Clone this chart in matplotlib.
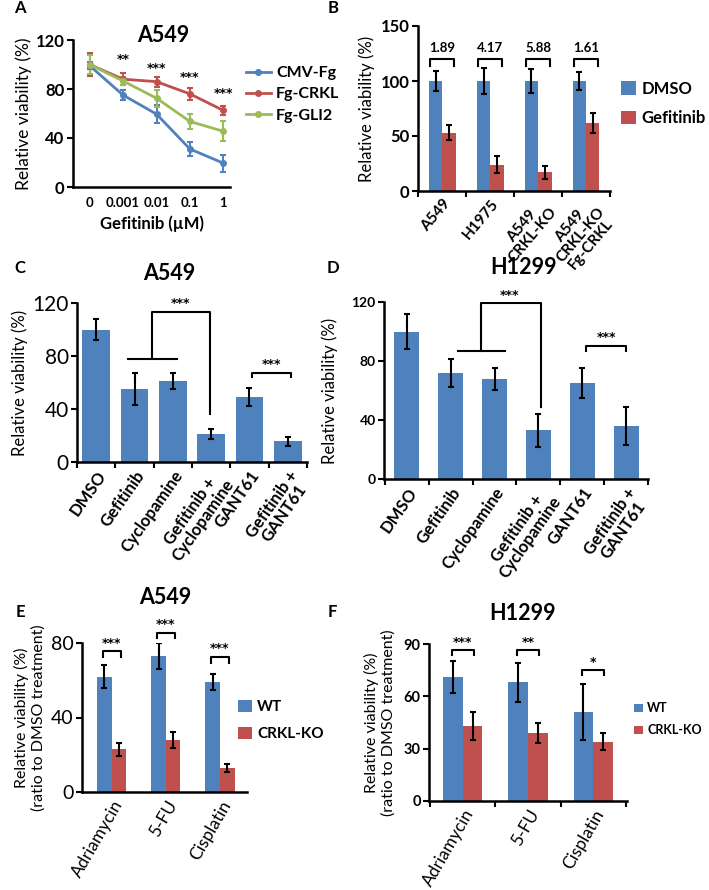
import numpy as np
import matplotlib.pyplot as plt
from matplotlib.lines import Line2D

plt.rcParams['font.family'] = ['Lato', 'DejaVu Sans']

BLUE = '#4F81BD'
RED = '#C0504D'
GREEN = '#9BBB59'

# Panel A
doses = ['0', '0.001', '0.01', '0.1', '1']
cmv_fg = [99, 75, 59.5, 31, 19.5]
cmv_fg_err = [3, 4, 7.5, 6, 7]
fg_crkl = [100, 88, 86, 76, 62.5]
fg_crkl_err = [9.5, 5, 4, 5, 4]
fg_gli2 = [100, 86.5, 72.5, 53.5, 45.5]
fg_gli2_err = [8, 3, 7, 6.5, 8]
stars_a = ['**', '***', '***', '***']
stars_a_y = [104, 97, 89, 76]

# Panel B
lines_b = ['A549', 'H1975', 'A549\nCRKL-KO', 'A549\nCRKL-KO\nFg-CRKL']
dmso_b = [100, 100, 100, 100]
dmso_b_err = [9, 12, 11, 8]
gef_b = [53, 24, 17, 62]
gef_b_err = [7, 8, 6, 9]
ratio_b = ['1.89', '4.17', '5.88', '1.61']

# Panels C and D
treatments = ['DMSO', 'Gefitinib', 'Cyclopamine', 'Gefitinib +\nCyclopamine',
              'GANT61', 'Gefitinib +\nGANT61']
a549_c = [100, 55, 61, 21, 49, 15.5]
a549_c_err = [8, 12, 6, 4, 7, 3.5]
h1299_d = [100, 72, 68, 33, 65, 36]
h1299_d_err = [12, 9.5, 7.5, 11, 10, 13]

# Panels E and F
drugs = ['Adriamycin', '5-FU', 'Cisplatin']
wt_e = [62, 73, 59]
wt_e_err = [6, 7, 4.3]
ko_e = [23, 28, 13]
ko_e_err = [3.5, 4.3, 2.2]
stars_e = ['***', '***', '***']
wt_f = [71, 68, 51]
wt_f_err = [9, 11, 16]
ko_f = [43, 39, 34]
ko_f_err = [8, 6, 5]
stars_f = ['***', '**', '*']

fig = plt.figure(figsize=(7.09, 8.90), dpi=100)
W, H = 709, 890
STAR = dict(family='DejaVu Sans', fontsize=9, fontweight='bold')


def add_ax(l, r, t, b):
    return fig.add_axes([l / W, 1 - b / H, (r - l) / W, (b - t) / H])


def style(ax, tick_size, bold=True):
    for s in ['top', 'right']:
        ax.spines[s].set_visible(False)
    for s in ['left', 'bottom']:
        ax.spines[s].set_linewidth(1.8)
    ax.tick_params(axis='y', direction='out', length=4, width=1.5,
                   labelsize=tick_size, pad=2)
    for lab in ax.get_yticklabels():
        lab.set_fontweight('bold' if bold else 'normal')


def cat_ticks(ax, n, labels, size, rot, bold=True):
    ax.set_xticks(np.arange(n))
    ax.set_xticklabels(labels, rotation=rot, ha='right', rotation_mode='anchor',
                       fontsize=size, fontweight='bold' if bold else 'normal',
                       multialignment='center', linespacing=0.95)
    ax.tick_params(axis='x', which='major', length=0, pad=4)
    ax.set_xticks(np.arange(n + 1) - 0.5, minor=True)
    ax.tick_params(axis='x', which='minor', direction='out', length=4, width=1.5)


def bracket(ax, x1, x2, y, drop, label):
    ax.plot([x1, x1, x2, x2], [y - drop, y, y, y - drop], color='black', lw=1.5,
            clip_on=False)
    ax.text((x1 + x2) / 2, y + drop * 0.3, label, ha='center', va='bottom', **STAR)


def bar_legend(ax, anchor, size, hl=0.9):
    ax.legend(loc='center left', bbox_to_anchor=anchor, frameon=False,
              borderpad=0, borderaxespad=0,
              handlelength=hl, handleheight=hl, handletextpad=0.35,
              labelspacing=0.8, prop={'weight': 'bold', 'size': size})


# ---------- A ----------
ax = add_ax(73, 230, 40, 187)
x = np.arange(len(doses))
handles = []
for vals, errs, c, lab in [(cmv_fg, cmv_fg_err, BLUE, 'CMV-Fg'),
                           (fg_crkl, fg_crkl_err, RED, 'Fg-CRKL'),
                           (fg_gli2, fg_gli2_err, GREEN, 'Fg-GLI2')]:
    ax.errorbar(x, vals, yerr=errs, color=c, marker='o', ms=4, lw=2,
                elinewidth=1.5, capsize=2.5, capthick=1.5)
    handles.append(Line2D([], [], color=c, marker='o', ms=4, lw=2, label=lab))
for i, s in enumerate(stars_a):
    ax.text(i + 1, stars_a_y[i], s, ha='center', va='center', **STAR)
ax.set_xlim(-0.5, 4.2)
ax.set_ylim(0, 120)
ax.set_yticks([0, 40, 80, 120])
style(ax, 12)
ax.set_xticks(x)
ax.set_xticklabels(doses, fontsize=9.5, fontweight='bold')
ax.tick_params(axis='x', length=0, pad=7)
ax.set_ylabel('Relative viability (%)', fontsize=12.5, labelpad=3)
ax.set_xlabel('Gefitinib (µM)', fontsize=12, fontweight='bold', labelpad=5)
ax.legend(handles=handles, loc='center left', bbox_to_anchor=(1.1, 0.63),
          frameon=False, borderpad=0, borderaxespad=0, handlelength=1.6,
          handletextpad=0.3, labelspacing=0.45,
          prop={'weight': 'bold', 'size': 11.5})
fig.text(163 / W, 1 - 35 / H, 'A549', ha='center', va='center', fontsize=15.5,
         fontweight='bold')

# ---------- B ----------
ax = add_ax(418, 610, 26, 191)
x = np.arange(len(lines_b))
bw = 0.28
ax.bar(x - bw / 2, dmso_b, bw, color=BLUE, label='DMSO')
ax.bar(x + bw / 2, gef_b, bw, color=RED, label='Gefitinib')
ax.errorbar(x - bw / 2, dmso_b, yerr=dmso_b_err, fmt='none', ecolor='black',
            elinewidth=1.5, capsize=2.5, capthick=1.5)
ax.errorbar(x + bw / 2, gef_b, yerr=gef_b_err, fmt='none', ecolor='black',
            elinewidth=1.5, capsize=2.5, capthick=1.5)
for i, r in enumerate(ratio_b):
    ax.plot([i - 0.25, i - 0.25, i + 0.25, i + 0.25], [114, 120, 120, 114],
            color='black', lw=1.5)
    ax.text(i, 130, r, ha='center', va='center', fontsize=9.5, fontweight='bold')
ax.set_xlim(-0.51, 3.5)
ax.set_ylim(0, 150)
ax.set_yticks([0, 50, 100, 150])
style(ax, 12)
cat_ticks(ax, 4, lines_b, 11, 50)
ax.set_ylabel('Relative viability (%)', fontsize=12, labelpad=4)
bar_legend(ax, (1.055, 0.53), 12)

# ---------- C ----------
ax = add_ax(77, 307, 303, 462)
x = np.arange(len(treatments))
ax.bar(x, a549_c, 0.73, color=BLUE)
ax.errorbar(x, a549_c, yerr=a549_c_err, fmt='none', ecolor='black',
            elinewidth=1.5, capsize=2.5, capthick=1.5)
ax.plot([0.83, 2.1], [78, 78], color='black', lw=1.5)
ax.plot([1.45, 1.45, 2.98, 2.98], [78, 113.5, 113.5, 36], color='black', lw=1.5)
ax.text(2.2, 115, '***', ha='center', va='bottom', **STAR)
bracket(ax, 4.07, 5.07, 67.5, 3.5, '***')
ax.set_xlim(-0.5, 5.47)
ax.set_ylim(0, 120)
ax.set_yticks([0, 40, 80, 120])
style(ax, 15, bold=False)
cat_ticks(ax, 6, treatments, 12, 55)
ax.set_ylabel('Relative viability (%)', fontsize=12, labelpad=3)
fig.text(169 / W, 1 - 273 / H, 'A549', ha='center', va='center', fontsize=15.5,
         fontweight='bold')

# ---------- D ----------
ax = add_ax(384, 648, 302, 479)
ax.bar(x, h1299_d, 0.57, color=BLUE)
ax.errorbar(x, h1299_d, yerr=h1299_d_err, fmt='none', ecolor='black',
            elinewidth=1.5, capsize=2.5, capthick=1.5)
ax.plot([1.16, 2.25], [86.5, 86.5], color='black', lw=1.5)
ax.plot([1.7, 1.7, 3.05, 3.05], [86.5, 119, 119, 49], color='black', lw=1.5)
ax.text(2.35, 120, '***', ha='center', va='bottom', **STAR)
bracket(ax, 4.09, 5.0, 90.5, 3.5, '***')
ax.set_xlim(-0.52, 5.5)
ax.set_ylim(0, 120)
ax.set_yticks([0, 40, 80, 120])
style(ax, 10)
cat_ticks(ax, 6, treatments, 12, 55)
ax.set_ylabel('Relative viability (%)', fontsize=12, labelpad=10)
fig.text(524 / W, 1 - 267 / H, 'H1299', ha='center', va='center', fontsize=15.5,
         fontweight='bold')

# ---------- E ----------
ax = add_ax(82, 247, 643, 792)
x = np.arange(len(drugs))
bw = 0.27
ax.bar(x - bw / 2, wt_e, bw, color=BLUE, label='WT')
ax.bar(x + bw / 2, ko_e, bw, color=RED, label='CRKL-KO')
ax.errorbar(x - bw / 2, wt_e, yerr=wt_e_err, fmt='none', ecolor='black',
            elinewidth=1.5, capsize=2.5, capthick=1.5)
ax.errorbar(x + bw / 2, ko_e, yerr=ko_e_err, fmt='none', ecolor='black',
            elinewidth=1.5, capsize=2.5, capthick=1.5)
for i, (yb, s) in enumerate(zip([75.5, 85.5, 72.5], stars_e)):
    bracket(ax, i - bw / 2 - 0.03, i + bw / 2 + 0.03, yb, 3, s)
ax.set_xlim(-0.55, 2.37)
ax.set_ylim(0, 80)
ax.set_yticks([0, 40, 80])
style(ax, 14, bold=False)
cat_ticks(ax, 3, drugs, 12.5, 60, bold=False)
ax.tick_params(axis='x', which='minor', length=0)
ax.set_ylabel('Relative viability (%)\n(ratio to DMSO treatment)', fontsize=11.5,
              labelpad=4)
bar_legend(ax, (0.945, 0.48), 11)
fig.text(165 / W, 1 - 598 / H, 'A549', ha='center', va='center', fontsize=15.5,
         fontweight='bold')

# ---------- F ----------
ax = add_ax(429, 627, 644, 801)
bw = 0.3
ax.bar(x - bw / 2, wt_f, bw, color=BLUE, label='WT')
ax.bar(x + bw / 2, ko_f, bw, color=RED, label='CRKL-KO')
ax.errorbar(x - bw / 2, wt_f, yerr=wt_f_err, fmt='none', ecolor='black',
            elinewidth=1.5, capsize=2.5, capthick=1.5)
ax.errorbar(x + bw / 2, ko_f, yerr=ko_f_err, fmt='none', ecolor='black',
            elinewidth=1.5, capsize=2.5, capthick=1.5)
for i, (yb, s) in enumerate(zip([86.5, 86.5, 75], stars_f)):
    bracket(ax, i - bw / 2 - 0.02, i + bw / 2 + 0.02, yb, 3, s)
ax.set_xlim(-0.52, 2.52)
ax.set_ylim(0, 90)
ax.set_yticks([0, 30, 60, 90])
style(ax, 10.5)
cat_ticks(ax, 3, drugs, 12.5, 60, bold=False)
ax.set_ylabel('Relative viability (%)\n(ratio to DMSO treatment)', fontsize=11.5,
              labelpad=6)
bar_legend(ax, (1.035, 0.52), 9, hl=0.7)
fig.text(523 / W, 1 - 613 / H, 'H1299', ha='center', va='center', fontsize=15.5,
         fontweight='bold')

# panel letters
for lab, px, py in [('A', 20, 8), ('B', 333, 8), ('C', 20, 268), ('D', 333, 268),
                    ('E', 20, 612), ('F', 332, 612)]:
    fig.text(px / W, 1 - py / H, lab, ha='center', va='center', fontsize=12,
             fontweight='bold')

fig.savefig('out.png', dpi=100)
